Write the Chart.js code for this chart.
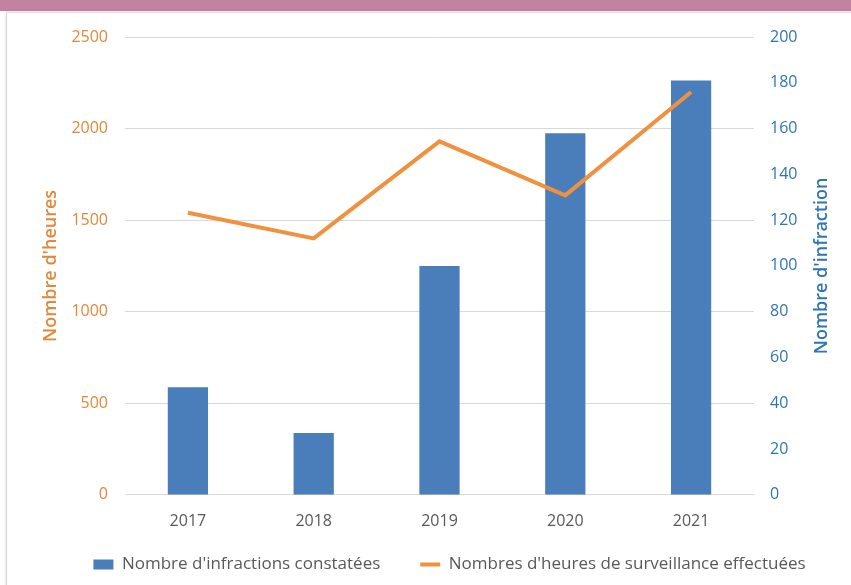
<!DOCTYPE html>
<html>
<head>
<meta charset="utf-8">
<script src="https://cdn.jsdelivr.net/npm/chart.js@4.4.1/dist/chart.umd.min.js"></script>
<style>
  html, body { margin: 0; padding: 0; background: #fff; }
  #wrap { position: relative; width: 851px; height: 585px; overflow: hidden; }
  #band { position: absolute; left: 0; top: 0; width: 851px; height: 11px; background: #C1839F; }
  #card { position: absolute; left: 6px; top: 12px; width: 860px; height: 600px;
          border-left: 1px solid #d6d6d6; border-top: 1px solid #e2e2e2; background: #fff;
          box-shadow: -1px -1px 2px rgba(0,0,0,0.08); }
  #c { position: absolute; left: 0; top: 0; }
</style>
</head>
<body>
<div id="wrap">
  <div id="band"></div>
  <div id="card"></div>
  <canvas id="c" width="851" height="585"></canvas>
</div>
<script>
const years = ['2017', '2018', '2019', '2020', '2021'];
const infractions = [47, 27, 100, 158, 181];
const heures = [1540, 1400, 1930, 1635, 2200];
const leftTicks = [0, 500, 1000, 1500, 2000, 2500];
const rightTicks = [0, 20, 40, 60, 80, 100, 120, 140, 160, 180, 200];

const orange = '#F0913F';
const orangeText = '#E3883A';
const blue = '#4A7EBB';
const blueText = '#2E75B6';
const font = '"Open Sans", Lato, sans-serif';

// right axis title reads bottom to top, like the left one
const rightTitle = {
    id: 'rightTitle',
    afterDraw(chart) {
        const ctx = chart.ctx;
        const area = chart.chartArea;
        ctx.save();
        ctx.translate(822, (area.top + area.bottom) / 2);
        ctx.rotate(-Math.PI / 2);
        ctx.fillStyle = blueText;
        ctx.font = '600 18px ' + font;
        ctx.textAlign = 'center';
        ctx.textBaseline = 'middle';
        ctx.fillText("Nombre d'infraction", 0, 0);
        ctx.restore();
    }
};

// wide gap between legend items without a tall legend box: move it after layout
const legendShift = {
    id: 'legendShift',
    afterLayout(chart) {
        const lg = chart.legend;
        lg.top = 516;
        lg.bottom = 585;
        lg.left += 24;
        lg.right += 24;
    }
};

new Chart(document.getElementById('c').getContext('2d'), {
    data: {
        labels: years,
        datasets: [
            {
                type: 'line',
                label: "Nombres d'heures de surveillance effectuées",
                data: heures,
                yAxisID: 'yL',
                borderColor: orange,
                backgroundColor: orange,
                borderWidth: 4,
                pointRadius: 0,
                pointStyle: 'line',
                tension: 0,
                order: 0
            },
            {
                type: 'bar',
                label: "Nombre d'infractions constatées",
                data: infractions,
                yAxisID: 'yR',
                backgroundColor: blue,
                borderWidth: 0,
                pointStyle: 'rect',
                categoryPercentage: 1,
                barPercentage: 0.32,
                order: 1
            }
        ]
    },
    options: {
        responsive: false,
        animation: false,
        layout: { padding: { top: 37, left: 0, right: 0, bottom: 0 } },
        plugins: {
            legend: {
                position: 'bottom',
                reverse: true,
                maxHeight: 45,
                labels: {
                    usePointStyle: true,
                    pointStyleWidth: 20,
                    boxHeight: 10,
                    padding: 40,
                    color: '#595959',
                    font: { family: font, size: 17 }
                }
            },
            tooltip: { enabled: false }
        },
        scales: {
            x: {
                grid: { display: false },
                border: { display: true, color: '#d9d9d9', width: 1 },
                ticks: { color: '#595959', padding: 9, font: { family: font, size: 16 } }
            },
            yL: {
                position: 'left',
                min: 0,
                max: 2500,
                afterBuildTicks(s) { s.ticks = leftTicks.map(v => ({ value: v })); },
                afterFit(s) { s.width = 125; },
                grid: { color: '#d9d9d9', lineWidth: 1, drawTicks: false },
                border: { display: false },
                ticks: {
                    color: orangeText, padding: 17, font: { family: font, size: 16 },
                    callback: v => String(v)
                },
                title: {
                    display: true,
                    text: "Nombre d'heures",
                    color: orangeText,
                    padding: { top: 40, bottom: 0 },
                    font: { family: font, size: 18, weight: '600' }
                }
            },
            yR: {
                position: 'right',
                min: 0,
                max: 200,
                afterBuildTicks(s) { s.ticks = rightTicks.map(v => ({ value: v })); },
                afterFit(s) { s.width = 97; },
                grid: { display: false, drawTicks: false },
                border: { display: false },
                ticks: { color: blueText, padding: 16, font: { family: font, size: 16 } }
            }
        }
    },
    plugins: [rightTitle, legendShift]
});
</script>
</body>
</html>
